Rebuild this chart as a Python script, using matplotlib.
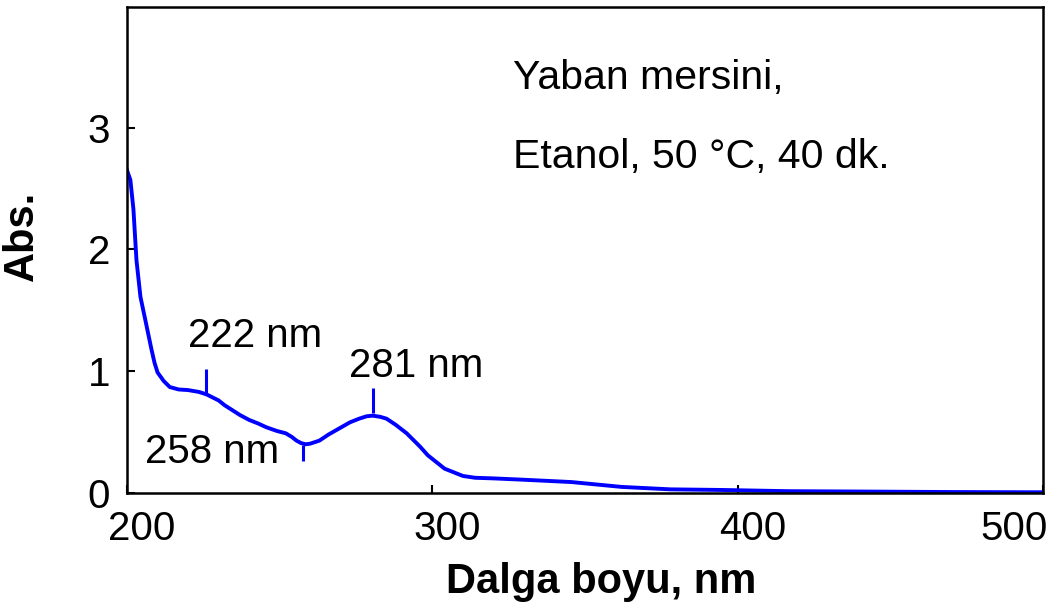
import matplotlib
matplotlib.use("Agg")
import matplotlib.pyplot as plt
import matplotlib.transforms as mtransforms

plt.rcParams['font.family'] = ['Liberation Sans', 'DejaVu Sans']

# Spectrum
wavelength = [200, 201.1, 202.1, 203.1, 204.4, 206, 207, 208, 209, 210,
              212, 214, 216.9, 220, 223.5, 226, 228, 230, 232, 234.5, 237,
              240, 243, 245.6, 249, 252, 254, 255.5, 257, 258.5, 260,
              263, 266, 269.5, 273, 276, 278.5, 280.5, 283, 285, 288,
              291.6, 294, 296, 298.5, 301.5, 304, 307, 310, 314, 320,
              329, 345.5, 362, 378, 394.6, 416.6, 440, 470, 500]
absorbance = [2.65, 2.57, 2.33, 1.91, 1.61, 1.42, 1.30, 1.18, 1.07, 0.99,
              0.92, 0.87, 0.85, 0.845, 0.83, 0.81, 0.785, 0.76, 0.72, 0.68, 0.64,
              0.60, 0.57, 0.54, 0.51, 0.49, 0.46, 0.43, 0.41, 0.40, 0.405,
              0.43, 0.48, 0.53, 0.58, 0.61, 0.63, 0.635, 0.625, 0.61, 0.56,
              0.49, 0.43, 0.38, 0.31, 0.25, 0.20, 0.17, 0.14, 0.125, 0.12,
              0.11, 0.09, 0.05, 0.03, 0.025, 0.015, 0.012, 0.008, 0.006]

# Peak markers: x, y-bottom, y-top
mark_x = [226, 257.7, 280.7]
mark_lo = [0.82, 0.26, 0.66]
mark_hi = [1.02, 0.39, 0.86]

# Peak labels
peak_labels = ['222 nm', '258 nm', '281 nm']
label_x = [242, 228, 294.6]
label_y = [1.20, 0.25, 0.953]

x_ticks = [200, 300, 400, 500]
y_ticks = [0, 1, 2, 3]

fig = plt.figure(figsize=(10.62, 6.07), dpi=100)
ax = fig.add_axes([0.1196, 0.1878, 0.8625, 0.8007])

ax.plot(wavelength, absorbance, color='#0000ff', lw=2.8)
ax.vlines(mark_x, mark_lo, mark_hi, color='#0000ff', lw=2.2)
for txt, tx, ty in zip(peak_labels, label_x, label_y):
    ax.text(tx, ty, txt, fontsize=29, ha='center', va='baseline')

ax.text(326.4, 3.32, 'Yaban mersini,', fontsize=29.5, va='baseline')
ax.text(326.4, 2.67, 'Etanol, 50 °C, 40 dk.', fontsize=29.5, va='baseline')

ax.set_xlim(200, 500)
ax.set_ylim(0, 3.99)
ax.set_xticks(x_ticks)
ax.set_yticks(y_ticks)
ax.tick_params(direction='in', length=6, width=1.5, labelsize=29, pad=12,
               top=False, right=False)
for sp in ax.spines.values():
    sp.set_linewidth(1.8)

# x tick labels sit a bit off their ticks in the original
shifts = [15, 15, 15, -29]
for lab, dx in zip(ax.get_xticklabels(), shifts):
    lab.set_transform(lab.get_transform() +
                      mtransforms.ScaledTranslation(dx / 100, 0, fig.dpi_scale_trans))

ax.set_xlabel('Dalga boyu, nm', fontsize=30, fontweight='bold')
ax.set_ylabel('Abs.', fontsize=30, fontweight='bold')
ax.xaxis.set_label_coords(0.518, -0.142)
ax.xaxis.label.set_va('top')
ax.yaxis.set_label_coords(-0.093, 0.53)

fig.savefig('out.png', dpi=100)
